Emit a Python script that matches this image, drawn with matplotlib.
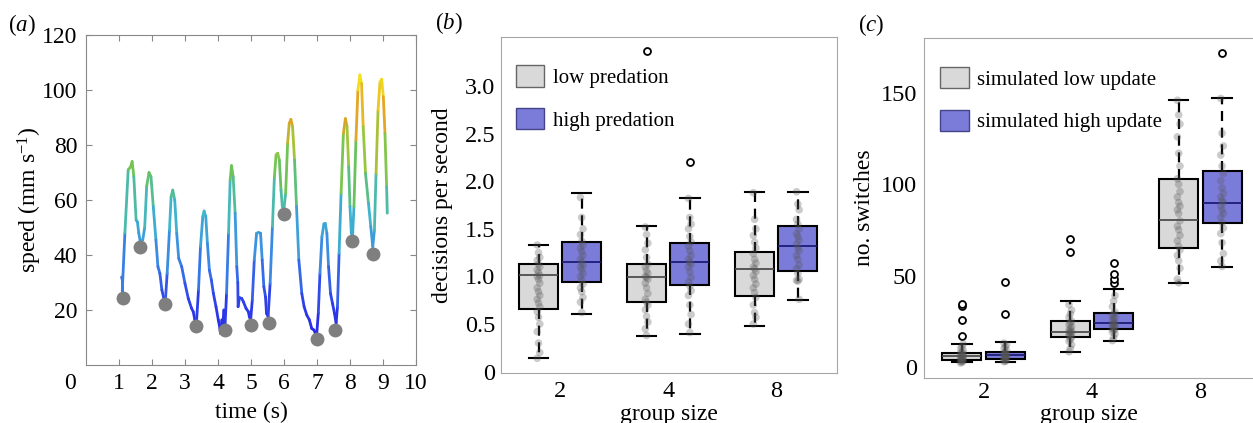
import matplotlib
matplotlib.use('Agg')
import matplotlib.pyplot as plt
import numpy as np
from matplotlib.collections import LineCollection
from matplotlib.colors import LinearSegmentedColormap, Normalize
from matplotlib.patches import Patch

plt.rcParams['font.family'] = ['Liberation Serif', 'DejaVu Serif']
plt.rcParams['mathtext.fontset'] = 'custom'
plt.rcParams['mathtext.rm'] = 'Liberation Serif'
plt.rcParams['mathtext.it'] = 'Liberation Serif:italic'

"""
(a) speed trace, read off the picture
"""
t_a = [1.08, 1.10, 1.10, 1.18, 1.28, 1.35, 1.40, 1.45, 1.52, 1.56, 1.60, 1.64, 1.72, 1.78,
       1.84, 1.91, 1.97, 2.04, 2.12, 2.18, 2.24, 2.30, 2.36, 2.41, 2.46, 2.53, 2.58, 2.63,
       2.69, 2.75, 2.81, 2.90, 3.00, 3.10, 3.20, 3.25, 3.30, 3.35, 3.41, 3.47, 3.54, 3.58,
       3.63, 3.68, 3.74, 3.80, 3.86, 3.94, 4.01, 4.06, 4.08, 4.12, 4.14, 4.18, 4.21, 4.26,
       4.32, 4.37, 4.41, 4.46, 4.52, 4.57, 4.60, 4.61, 4.65, 4.72, 4.77, 4.85, 4.92, 4.95,
       4.99, 5.04, 5.10, 5.17, 5.23, 5.29, 5.34, 5.39, 5.44, 5.47, 5.52, 5.58, 5.65, 5.71,
       5.76, 5.81, 5.86, 5.91, 5.95, 6.00, 6.05, 6.11, 6.16, 6.21, 6.26, 6.32, 6.38, 6.45,
       6.54, 6.61, 6.69, 6.77, 6.84, 6.91, 6.95, 6.99, 7.04, 7.09, 7.15, 7.21, 7.25, 7.30,
       7.35, 7.41, 7.47, 7.53, 7.58, 7.62, 7.67, 7.73, 7.80, 7.86, 7.91, 7.96, 8.00, 8.04,
       8.08, 8.12, 8.18, 8.24, 8.30, 8.35, 8.40, 8.47, 8.56, 8.63, 8.69, 8.74, 8.79, 8.85,
       8.91, 8.96, 9.01, 9.06, 9.11, 9.13]
v_a = [32, 31, 27, 48, 71, 72, 74, 68.5, 52.7, 52, 48, 45.2, 45.5, 50,
       65, 70, 68.5, 57.6, 45.5, 35.8, 33.3, 27.3, 24.2, 24, 33.3, 49, 61.2, 63.6,
       60, 47.9, 38.8, 35.8, 29.7, 24.2, 20.6, 19.4, 16.4, 15.8, 27.3, 43, 54, 56,
       54, 44.2, 34.5, 30.9, 26.1, 21.2, 16.4, 13.3, 11.5, 16.4, 13.3, 20, 13.3, 26,
       47.9, 67.3, 72.5, 68.5, 55.2, 35.8, 30, 21.2, 24.5, 24.2, 23, 20.6, 19.4, 17.6,
       16.4, 23.6, 38.2, 47.9, 48.2, 47.9, 38.2, 28.5, 24.8, 18.8, 17.6, 29.7, 50.3, 68.5,
       76.4, 77, 74.5, 63.6, 57.6, 57, 62.4, 80.6, 87.9, 89.3, 86.7, 74.5, 57.6, 38.2,
       26, 21.2, 18.2, 16.4, 13.3, 12.7, 11.5, 10.9, 18.8, 33.3, 46.7, 51.3, 51.5, 47.9,
       35.8, 26, 22.4, 18.8, 15.2, 21.2, 40.6, 62.4, 84.2, 89.6, 86.7, 72.1, 57.6, 47.9,
       47.3, 57.6, 81.8, 100, 105.5, 102.4, 86.7, 69.7, 58.8, 50.3, 43, 49, 69.7, 92.7,
       103, 103.9, 97.6, 84.2, 64.8, 55.2]
t_dec = [1.13, 1.65, 2.41, 3.33, 4.22, 5.01, 5.54, 6.01, 7.01, 7.56, 8.05, 8.69]
v_dec = [24.5, 42.8, 22.3, 14.1, 12.8, 14.5, 15.4, 54.8, 9.3, 12.6, 45.2, 40.2]

"""
(b) decisions per second
"""
groups = ['2', '4', '8']
b_low_pts = [
    [1.33, 1.25, 1.2, 1.17, 1.13, 1.1, 1.07, 1.04, 1.01, 1.0, 0.97, 0.93, 0.88, 0.84, 0.8,
     0.76, 0.72, 0.68, 0.63, 0.57, 0.5, 0.42, 0.3, 0.2, 0.14],
    [1.52, 1.44, 1.35, 1.28, 1.2, 1.13, 1.1, 1.06, 1.03, 1.0, 0.99, 0.97, 0.93, 0.88, 0.82,
     0.76, 0.73, 0.7, 0.65, 0.58, 0.52, 0.45, 0.38],
    [1.88, 1.6, 1.5, 1.43, 1.36, 1.3, 1.24, 1.18, 1.14, 1.1, 1.08, 1.05, 1.01, 0.97, 0.92,
     0.88, 0.83, 0.78, 0.7, 0.62, 0.57, 0.5],
]
b_high_pts = [
    [1.83, 1.62, 1.5, 1.44, 1.37, 1.33, 1.3, 1.26, 1.22, 1.18, 1.15, 1.12, 1.1, 1.07, 1.03,
     1.0, 0.96, 0.92, 0.88, 0.84, 0.78, 0.73, 0.62],
    [1.82, 1.62, 1.55, 1.5, 1.42, 1.36, 1.32, 1.27, 1.22, 1.18, 1.15, 1.13, 1.1, 1.05, 0.99,
     0.94, 0.9, 0.85, 0.8, 0.7, 0.6, 0.5, 0.41],
    [1.89, 1.76, 1.7, 1.6, 1.55, 1.5, 1.45, 1.42, 1.38, 1.34, 1.3, 1.27, 1.22, 1.18, 1.12,
     1.08, 1.03, 0.97, 0.96, 0.95, 0.76],
]
# box stats: whislo, q1, med, q3, whishi
b_low_stats = [[0.14, 0.66, 1.01, 1.13, 1.33], [0.37, 0.73, 0.99, 1.13, 1.53], [0.48, 0.79, 1.08, 1.26, 1.89]]
b_high_stats = [[0.60, 0.94, 1.15, 1.36, 1.88], [0.40, 0.91, 1.15, 1.35, 1.82], [0.75, 1.06, 1.32, 1.53, 1.89]]
b_low_out = [[], [3.37], []]
b_high_out = [[], [2.2], []]

"""
(c) number of switches
"""
c_low_pts = [
    [2, 2.5, 3, 3, 3.5, 4, 4, 4.5, 5, 5, 5.5, 6, 6, 6.5, 7, 7.5, 8, 9, 10, 11, 12.5],
    [8.2, 10, 12, 14, 15, 16, 17, 17.5, 18, 18.5, 19, 19.5, 20, 21, 22, 23, 24, 25, 27, 29, 31, 34],
    [146, 138, 133, 126, 117, 110, 103, 100, 96, 93, 90, 88, 86, 84, 80, 77, 75, 72, 69, 66,
     64, 61, 58, 54, 48, 46],
]
c_high_pts = [
    [2.8, 3, 3.5, 4, 4.5, 5, 5, 5.5, 6, 6.5, 7, 7, 7.5, 8, 9, 10, 11, 12, 13],
    [14.3, 16, 18, 19, 20, 20.5, 21, 22, 22.5, 23, 23.5, 24, 25, 26, 27, 28, 29, 30, 33, 36, 39],
    [147, 128, 121, 116, 110, 106, 102, 98, 95, 93, 91, 90, 88, 86, 84, 82, 79, 76, 73, 68,
     62, 58, 55],
]
c_low_stats = [[2.4, 3.7, 5.9, 7.7, 12.5], [8.2, 16.5, 19.2, 25.3, 36], [45.8, 65, 80.5, 102.8, 146]]
c_high_stats = [[2.8, 4.2, 6.2, 8.2, 13.4], [14.3, 20.5, 23.8, 29.6, 42.6], [54.9, 79, 90, 107.4, 147.3]]
c_low_out = [[17, 25.6, 33.5, 34.5], [63, 70], []]
c_high_out = [[28.8, 46.7], [46, 48, 50.9, 56.8], [172]]


fig = plt.figure(figsize=(12.53, 4.23), dpi=100)

# ---------------- panel a ----------------
ax1 = fig.add_axes([0.0686, 0.1371, 0.2634, 0.7801])
cmap = LinearSegmentedColormap.from_list('speed', [
    (0.0, '#2824e6'), (0.15, '#2f45ea'), (0.3, '#3a86e6'), (0.47, '#3fb6cc'),
    (0.63, '#6cc35a'), (0.72, '#9cc83c'), (0.83, '#e4a024'), (1.0, '#f4ec1c')])
pts = np.column_stack([t_a, v_a])
segs = np.stack([pts[:-1], pts[1:]], axis=1)
vals = 0.5 * (np.array(v_a[:-1]) + np.array(v_a[1:]))
lc = LineCollection(segs, cmap=cmap, norm=Normalize(10, 106), linewidth=2.0, capstyle='round')
lc.set_array(vals)
ax1.add_collection(lc)
ax1.plot(t_dec, v_dec, 'o', color='#7f7f7f', ms=10, mec='none', zorder=3)
ax1.set_xlim(0, 10)
ax1.set_ylim(0, 120)
ax1.set_xticks(range(1, 11))
ax1.set_yticks(range(20, 121, 20))
ax1.tick_params(direction='in', top=True, right=True, length=4, color='#888888', labelsize=17)
ax1.tick_params(axis='x', pad=6)
ax1.tick_params(axis='y', pad=6)
ax1.text(-0.048, -0.055, '0', transform=ax1.transAxes, ha='center', va='center', fontsize=17)
for s in ax1.spines.values():
    s.set_color('#888888')
ax1.set_xlabel('time (s)', fontsize=17, va='center')
ax1.xaxis.set_label_coords(0.5, -0.1424)
ax1.set_ylabel('speed (mm s$^{-1}$)', fontsize=17, va='center')
ax1.yaxis.set_label_coords(-0.17, 0.5)
fig.text(0.0065, 0.94, r'($\mathit{a}$)', fontsize=16.5, va='center')


def box_panel(ax, low_stats, high_stats, low_pts, high_pts, low_out, high_out):
    for side, stats, ptsl, outs, fc, mc in [
            (-0.2, low_stats, low_pts, low_out, '#d9d9d9', '#4d4d4d'),
            (0.2, high_stats, high_pts, high_out, '#7b7bd9', '#1c1c78')]:
        bx = []
        for st, fl in zip(stats, outs):
            bx.append(dict(whislo=st[0], q1=st[1], med=st[2], q3=st[3], whishi=st[4], fliers=fl))
        pos = [i + side for i in range(len(stats))]
        ax.bxp(bx, positions=pos, widths=0.36, patch_artist=True, capwidths=0.18,
               boxprops=dict(facecolor=fc, edgecolor='black', linewidth=1.5),
               whiskerprops=dict(color='black', linewidth=1.6, linestyle=(0, (4.5, 3))),
               capprops=dict(color='black', linewidth=1.5),
               medianprops=dict(color=mc, linewidth=1.3),
               flierprops=dict(marker='o', mfc='white', mec='black', ms=5, mew=1.3))
        for i, p in enumerate(ptsl):
            xs = [pos[i] + 0.012 * ((k % 3) - 1) for k in range(len(p))]
            ax.scatter(xs, p, s=30, color='#555555', alpha=0.3, edgecolors='none', zorder=4)
    ax.set_xticks(range(len(groups)))
    ax.set_xticklabels(groups)
    ax.tick_params(length=0, labelsize=17.5)
    for s in ax.spines.values():
        s.set_color('#a6a6a6')
    ax.set_xlabel('group size', fontsize=17, va='center')


# ---------------- panel b ----------------
ax2 = fig.add_axes([0.3996, 0.1182, 0.2682, 0.795])
box_panel(ax2, b_low_stats, b_high_stats, b_low_pts, b_high_pts, b_low_out, b_high_out)
ax2.set_xlim(-0.55, 2.56)
ax2.set_ylim(-0.015, 3.52)
ax2.set_yticks([0, 0.5, 1.0, 1.5, 2.0, 2.5, 3.0])
ax2.set_yticklabels(['0', '0.5', '1.0', '1.5', '2.0', '2.5', '3.0'])
ax2.tick_params(axis='x', pad=6)
ax2.tick_params(axis='y', pad=4)
ax2.xaxis.set_label_coords(0.5, -0.122)
ax2.set_ylabel('decisions per second', fontsize=17, va='center')
ax2.yaxis.set_label_coords(-0.172, 0.5)
ax2.legend(handles=[Patch(facecolor='#d9d9d9', edgecolor='#666666', label='low predation'),
                    Patch(facecolor='#7b7bd9', edgecolor='#44448a', label='high predation')],
           loc='upper left', bbox_to_anchor=(0.045, 0.915), frameon=False, fontsize=15,
           handlelength=1.35, handleheight=1.2, labelspacing=0.95, handletextpad=0.45,
           borderpad=0, borderaxespad=0)
fig.text(0.347, 0.945, r'($\mathit{b}$)', fontsize=16.5, va='center')

# ---------------- panel c ----------------
ax3 = fig.add_axes([0.7374, 0.1071, 0.263, 0.8024])
box_panel(ax3, c_low_stats, c_high_stats, c_low_pts, c_high_pts, c_low_out, c_high_out)
ax3.set_xlim(-0.55, 2.49)
ax3.set_ylim(-6, 180)
ax3.set_yticks([0, 50, 100, 150])
ax3.tick_params(axis='x', pad=3)
ax3.tick_params(axis='y', pad=5)
ax3.xaxis.set_label_coords(0.5, -0.107)
ax3.set_ylabel('no. switches', fontsize=17, va='center')
ax3.yaxis.set_label_coords(-0.179, 0.5)
ax3.legend(handles=[Patch(facecolor='#d9d9d9', edgecolor='#666666', label='simulated low update'),
                    Patch(facecolor='#7b7bd9', edgecolor='#44448a', label='simulated high update')],
           loc='upper left', bbox_to_anchor=(0.05, 0.915), frameon=False, fontsize=15,
           handlelength=1.35, handleheight=1.2, labelspacing=0.95, handletextpad=0.4,
           borderpad=0, borderaxespad=0)
fig.text(0.6845, 0.94, r'($\mathit{c}$)', fontsize=16.5, va='center')

fig.savefig('out.png', dpi=100)
